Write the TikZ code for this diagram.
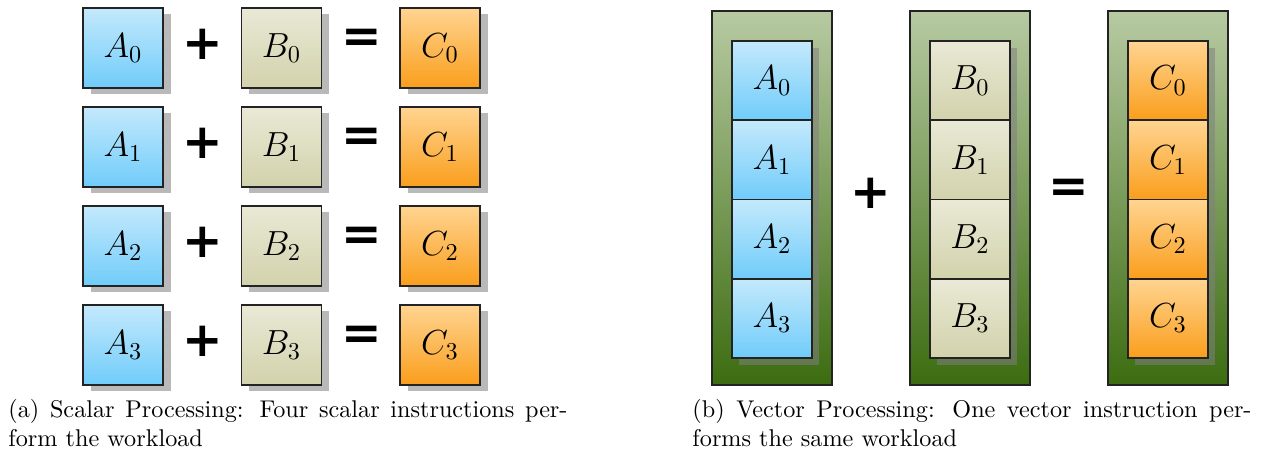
\documentclass[tikz,border=0pt]{standalone}
\usepackage{fontspec}
\newfontfamily\opfont{DejaVu Sans}
\usetikzlibrary{calc,shadows}
\setlength{\parindent}{0pt}
\definecolor{atop}{RGB}{196,233,252}
\definecolor{abot}{RGB}{112,204,250}
\definecolor{btop}{RGB}{233,233,214}
\definecolor{bbot}{RGB}{210,210,172}
\definecolor{ctop}{RGB}{255,212,145}
\definecolor{cbot}{RGB}{250,158,28}
\definecolor{gtop}{RGB}{183,202,162}
\definecolor{gbot}{RGB}{60,108,16}
\definecolor{boxline}{RGB}{35,35,35}
\definecolor{shadowgray}{RGB}{128,128,128}
\tikzset{
  cellbox/.style={draw=boxline, line width=0.65pt, minimum width=33.06pt, inner sep=0pt,
    font=\fontsize{14}{16}\selectfont},
  sqbox/.style={cellbox, minimum height=33.06pt,
    drop shadow={shadow xshift=3.3pt, shadow yshift=-2.5pt, fill=shadowgray, opacity=0.55}},
  vcbox/.style={cellbox, minimum height=32.75pt},
  acol/.style={top color=atop, bottom color=abot},
  bcol/.style={top color=btop, bottom color=bbot},
  ccol/.style={top color=ctop, bottom color=cbot},
  vframe/.style={draw=boxline, line width=0.65pt, top color=gtop, bottom color=gbot,
    minimum width=49.58pt, minimum height=154.5pt, inner sep=0pt},
  colshadow/.style={fill=shadowgray, opacity=0.55},
  opsign/.style={font=\opfont\bfseries\fontsize{20}{20}\selectfont, inner sep=0pt},
  captext/.style={anchor=north west, inner sep=0pt, text width=231pt, align=justify,
    font=\fontsize{10}{12}\selectfont}
}
\begin{document}
\begin{tikzpicture}[x=0.4132pt,y=-0.4132pt]
\useasboundingbox (0,0) rectangle (1263,455);
% ---- scalar part ----
\foreach \i in {0,1,2,3}{
  \pgfmathsetmacro{\yy}{48+99*\i}
  \node[sqbox,acol] (a\i) at (123,\yy) {$A_\i$};
  \node[sqbox,bcol] (b\i) at (281.5,\yy) {$B_\i$};
  \node[sqbox,ccol] (c\i) at (440,\yy) {$C_\i$};
  \node[opsign] (p\i) at (203,\yy-4) {+};
  \node[opsign] (e\i) at (361.5,\yy-7) {=};
}
% ---- vector part ----
\node[vframe] (fa) at (772,198) {};
\node[vframe] (fb) at (970,198) {};
\node[vframe] (fc) at (1168,198) {};
\foreach \x in {772,970,1168}{
  \fill[colshadow] (\x-40+7,41+7) rectangle (\x+40+7,358+7);
}
\foreach \k in {0,1,2,3}{
  \pgfmathsetmacro{\yy}{41+79.25*(\k+0.5)}
  \node[vcbox,acol] (va\k) at (772,\yy) {$A_\k$};
  \node[vcbox,bcol] (vb\k) at (970,\yy) {$B_\k$};
  \node[vcbox,ccol] (vc\k) at (1168,\yy) {$C_\k$};
}
\node[opsign] (vp) at (871,193) {+};
\node[opsign] (ve) at (1069,191) {=};
% ---- captions ----
\node[captext] (capa) at (8,399) {(a) Scalar Processing: Four scalar instructions per-\linebreak form the workload};
\node[captext] (capb) at (692,399) {(b) Vector Processing: One vector instruction per-\linebreak forms the same workload};
\end{tikzpicture}
\end{document}
